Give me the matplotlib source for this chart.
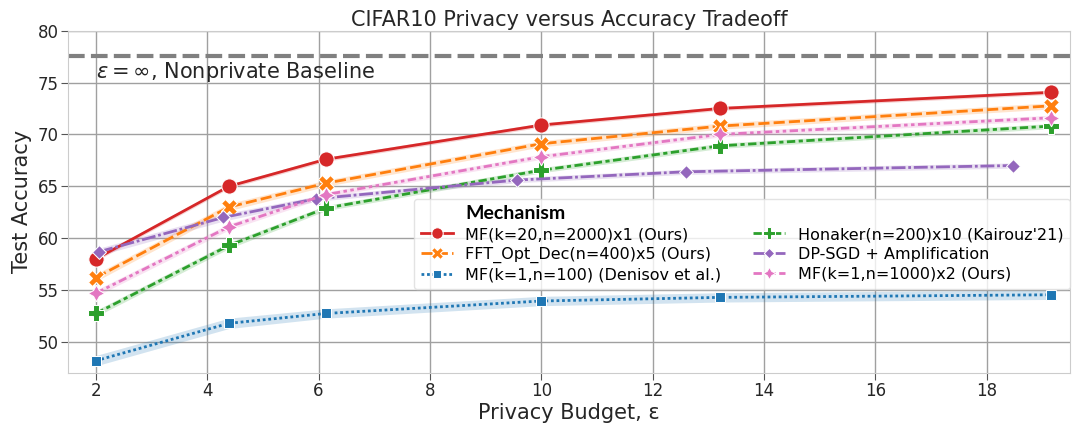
"""CIFAR10 privacy vs. accuracy tradeoff plot."""

import matplotlib

matplotlib.use("Agg")
import matplotlib.pyplot as plt
import numpy as np

# ---------------------------------------------------------------------------
# Data
# ---------------------------------------------------------------------------
mechanisms = [
    "MF(k=20,n=2000)x1 (Ours)",
    "FFT_Opt_Dec(n=400)x5 (Ours)",
    "MF(k=1,n=100) (Denisov et al.)",
    "Honaker(n=200)x10 (Kairouz'21)",
    "DP-SGD + Amplification",
    "MF(k=1,n=1000)x2 (Ours)",
]

eps_main = [2.0, 4.39, 6.13, 10.0, 13.21, 19.15]
eps_dpsgd = [2.06, 4.29, 5.95, 9.56, 12.6, 18.47]

acc_mf20 = [58.0, 65.0, 67.6, 70.9, 72.5, 74.05]
acc_fft = [56.2, 63.0, 65.3, 69.1, 70.8, 72.75]
acc_mf1_100 = [48.2, 51.8, 52.75, 53.95, 54.3, 54.55]
acc_honaker = [52.75, 59.3, 62.9, 66.55, 68.9, 70.8]
acc_dpsgd = [58.7, 62.0, 63.8, 65.6, 66.4, 67.0]
acc_mf1_1000 = [54.7, 61.1, 64.2, 67.85, 70.0, 71.6]

# approximate half-width of the shaded band around each line
band_mf20 = [0.2, 0.2, 0.2, 0.2, 0.2, 0.2]
band_fft = [0.35, 0.35, 0.3, 0.3, 0.3, 0.3]
band_mf1_100 = [0.5, 0.5, 0.45, 0.45, 0.45, 0.45]
band_honaker = [0.3, 0.3, 0.25, 0.25, 0.25, 0.25]
band_dpsgd = [0.35, 0.35, 0.25, 0.25, 0.25, 0.25]
band_mf1_1000 = [0.3, 0.3, 0.25, 0.25, 0.25, 0.25]

baseline_acc = 77.6

xticks = [2, 4, 6, 8, 10, 12, 14, 16, 18]
yticks = [50, 55, 60, 65, 70, 75, 80]

# ---------------------------------------------------------------------------
# Styles (seaborn-like markers / dashes)
# ---------------------------------------------------------------------------
series = [
    (eps_main, acc_mf20, band_mf20, "#d62728", "o", None, 11),
    (eps_main, acc_fft, band_fft, "#ff7f0e", "X", (4, 1.5), 12),
    (eps_main, acc_mf1_100, band_mf1_100, "#1f77b4", (4, 0, 45), (1, 1), 10),
    (eps_main, acc_honaker, band_honaker, "#2ca02c", "P", (3, 1.25, 1.5, 1.25), 12),
    (eps_dpsgd, acc_dpsgd, band_dpsgd, "#9467bd", (4, 0, 0), (5, 1, 1, 1), 10),
    (eps_main, acc_mf1_1000, band_mf1_1000, "#e377c2", (4, 1, 0),
     (3, 1.25, 1.25, 1.25, 1.25, 1.25), 12),
]

TXT = "#262626"
LEG_FS = 11.5

fig = plt.figure(figsize=(10.73, 4.25), dpi=100)
ax = fig.add_axes([0.0634, 0.122, 0.934, 0.806])

for (x, y, band, color, marker, dashes, ms), label in zip(series, mechanisms):
    y = np.array(y)
    b = np.array(band)
    ax.fill_between(x, y - b, y + b, color=color, alpha=0.2, lw=0, zorder=2)
    kw = dict(color=color, lw=2.0, marker=marker, ms=ms, mec="white", mew=0.75,
              label=label, zorder=3)
    if dashes is not None:
        kw["dashes"] = dashes
    ax.plot(x, y, **kw)

ax.axhline(baseline_acc, color="#808080", lw=3, dashes=(4, 1.5), zorder=2)
ax.text(2.0, 76.0, r"$\varepsilon = \infty$, Nonprivate Baseline", fontsize=15,
        color=TXT, ha="left", va="center")

ax.set_xlim(1.5, 19.5)
ax.set_ylim(47, 80)
ax.set_xticks(xticks)
ax.set_yticks(yticks)
ax.tick_params(labelsize=12, length=5, pad=1.5, color="#555555", labelcolor=TXT)
ax.grid(True, color="#a0a0a0", lw=1)
ax.set_axisbelow(True)
for s in ax.spines.values():
    s.set_color("#cccccc")

ax.set_title("CIFAR10 Privacy versus Accuracy Tradeoff", fontsize=15, color=TXT, pad=3)
ax.set_xlabel("Privacy Budget, ε", fontsize=15, color=TXT, labelpad=2)
ax.set_ylabel("Test Accuracy", fontsize=15, color=TXT, labelpad=4)

leg = ax.legend(title="Mechanism", ncol=2, fontsize=LEG_FS, loc="lower right",
                bbox_to_anchor=(1.0, 0.245), borderaxespad=0, frameon=True,
                framealpha=0.8, edgecolor="#dddddd", columnspacing=2.0,
                handlelength=2.0, handletextpad=0.8, borderpad=0.4,
                labelspacing=0.3, markerscale=0.75,
                title_fontproperties={"family": ["Lato", "DejaVu Sans"],
                                      "weight": "bold", "size": 14})
leg._legend_box.align = "left"
# line the title up with the entry texts rather than the handles
leg.get_title().set_x((2.0 + 0.8) * LEG_FS * fig.dpi / 72)

fig.savefig("out.png", dpi=100)
